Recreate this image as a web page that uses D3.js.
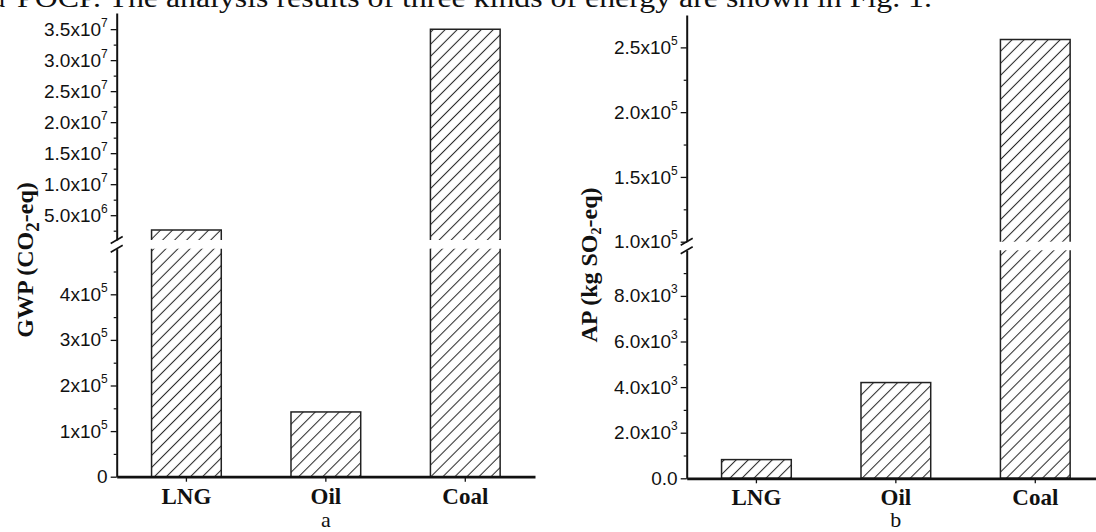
<!DOCTYPE html>
<html>
<head>
<meta charset="utf-8">
<script src="https://cdn.jsdelivr.net/npm/d3@7"></script>
<style>
  html, body { margin: 0; padding: 0; background: #fff; }
  svg { display: block; }
  .serif { font-family: "Liberation Serif", "Times New Roman", serif; }
  .sans { font-family: "Liberation Sans", Arial, sans-serif; }
</style>
</head>
<body>
<svg id="chart" width="1096" height="532"></svg>
<script>
// ---------------- data ----------------
const categories = ["LNG", "Oil", "Coal"];
const gwpValues = [2.6e6, 1.42e5, 3.5e7];      // CO2-eq
const apValues  = [820, 4200, 2.56e5];          // kg SO2-eq

// axis segments (broken axes): [min, max]
const gwpLowerDomain = [0, 5e5];
const gwpUpperDomain = [1e6, 3.76e7];
const apLowerDomain  = [0, 1e4];
const apUpperDomain  = [1e5, 2.75e5];

// tick values and labels ("^" marks the exponent)
const gwpLowerTicks  = [0, 1e5, 2e5, 3e5, 4e5];
const gwpLowerLabels = ["0", "1x10^5", "2x10^5", "3x10^5", "4x10^5"];
const gwpLowerMinor  = [5e4, 1.5e5, 2.5e5, 3.5e5, 4.5e5];
const gwpUpperTicks  = [5e6, 1e7, 1.5e7, 2e7, 2.5e7, 3e7, 3.5e7];
const gwpUpperLabels = ["5.0x10^6", "1.0x10^7", "1.5x10^7", "2.0x10^7", "2.5x10^7", "3.0x10^7", "3.5x10^7"];
const gwpUpperMinor  = [2.5e6, 7.5e6, 1.25e7, 1.75e7, 2.25e7, 2.75e7, 3.25e7];

const apLowerTicks  = [0, 2e3, 4e3, 6e3, 8e3];
const apLowerLabels = ["0.0", "2.0x10^3", "4.0x10^3", "6.0x10^3", "8.0x10^3"];
const apLowerMinor  = [1e3, 3e3, 5e3, 7e3, 9e3];
const apUpperTicks  = [1e5, 1.5e5, 2e5, 2.5e5];
const apUpperLabels = ["1.0x10^5", "1.5x10^5", "2.0x10^5", "2.5x10^5"];
const apUpperMinor  = [1.25e5, 1.75e5, 2.25e5];

const topTextLead = "and";
const topText = "POCP. The analysis results of three kinds of energy are shown in Fig. 1.";

// ---------------- drawing ----------------
const svg = d3.select("#chart");

const defs = svg.append("defs");
const pat = defs.append("pattern")
  .attr("id", "hatch")
  .attr("patternUnits", "userSpaceOnUse")
  .attr("width", 8.5).attr("height", 8.5)
  .attr("patternTransform", "rotate(45)");
pat.append("line")
  .attr("x1", 4.25).attr("y1", -1).attr("x2", 4.25).attr("y2", 9.5)
  .attr("stroke", "#2a2a2a").attr("stroke-width", 1.05);

// top body text (cut off at the top of the picture, as in the source)
svg.append("text").attr("class", "serif")
  .attr("x", 5).attr("y", 7).attr("text-anchor", "end")
  .attr("font-size", 27).attr("fill", "#111").text(topTextLead);
svg.append("text").attr("class", "serif")
  .attr("x", 17).attr("y", 7)
  .attr("font-size", 27).attr("fill", "#111")
  .attr("textLength", 915).attr("lengthAdjust", "spacingAndGlyphs")
  .text(topText);

function labelTicks(g, ticks, labels) {
  g.selectAll(".tick text").each(function(d) {
    const i = ticks.indexOf(d);
    const lab = i >= 0 ? labels[i] : "";
    const parts = lab.split("^");
    const t = d3.select(this);
    t.text(null);
    t.append("tspan").text(parts[0]);
    if (parts.length > 1) {
      t.append("tspan").attr("font-size", 12).attr("dy", -9).text(parts[1]);
    }
  });
}

function drawPanel(p) {
  const g = svg.append("g");
  const x = d3.scaleBand().domain(categories).range(p.xRange).paddingInner(0.5).paddingOuter(0.25);
  const yL = d3.scaleLinear().domain(p.lowerDomain).range(p.lowerRange);
  const yU = d3.scaleLinear().domain(p.upperDomain).range(p.upperRange);
  const y0 = yL(0);
  const lTop = p.lowerRange[1];
  const uBot = p.upperRange[0];

  // bars
  const bars = g.append("g");
  p.values.forEach((v, i) => {
    const bx = x(categories[i]);
    const bw = x.bandwidth();
    // lower piece
    if (v <= p.lowerDomain[1]) {
      const yt = yL(v);
      bars.append("rect").attr("x", bx).attr("y", yt).attr("width", bw).attr("height", y0 - yt)
        .attr("fill", "url(#hatch)").attr("stroke", "#222").attr("stroke-width", 1.5);
    } else {
      bars.append("rect").attr("x", bx).attr("y", lTop).attr("width", bw).attr("height", y0 - lTop)
        .attr("fill", "url(#hatch)");
      bars.append("path").attr("d", `M${bx},${lTop}V${y0}H${bx + bw}V${lTop}`)
        .attr("fill", "none").attr("stroke", "#222").attr("stroke-width", 1.5);
    }
    // upper piece
    if (v > p.upperDomain[0]) {
      const yt = yU(v);
      bars.append("rect").attr("x", bx).attr("y", yt).attr("width", bw).attr("height", uBot - yt)
        .attr("fill", "url(#hatch)");
      bars.append("path").attr("d", `M${bx},${uBot}V${yt}H${bx + bw}V${uBot}`)
        .attr("fill", "none").attr("stroke", "#222").attr("stroke-width", 1.5);
    }
  });

  const ax = p.xRange[0];
  // y axes
  const gl = g.append("g").attr("transform", `translate(${ax},0)`).attr("class", "sans")
    .call(d3.axisLeft(yL).tickValues(p.lowerTicks).tickSize(6).tickSizeOuter(0).tickPadding(3));
  labelTicks(gl, p.lowerTicks, p.lowerLabels);
  const gu = g.append("g").attr("transform", `translate(${ax},0)`).attr("class", "sans")
    .call(d3.axisLeft(yU).tickValues(p.upperTicks).tickSize(6).tickSizeOuter(0).tickPadding(3));
  labelTicks(gu, p.upperTicks, p.upperLabels);
  [gl, gu].forEach(a => {
    a.selectAll("text").attr("font-size", 19).attr("fill", "#111");
    a.select(".domain").attr("stroke", "#111").attr("stroke-width", 2);
    a.selectAll(".tick line").attr("stroke", "#111").attr("stroke-width", 1.3);
  });
  g.append("g").attr("transform", `translate(${ax},0)`)
    .call(d3.axisLeft(yL).tickValues(p.lowerMinor).tickSize(3).tickFormat(""))
    .call(a => { a.select(".domain").remove(); a.selectAll("line").attr("stroke", "#111").attr("stroke-width", 1.2); });
  g.append("g").attr("transform", `translate(${ax},0)`)
    .call(d3.axisLeft(yU).tickValues(p.upperMinor).tickSize(3).tickFormat(""))
    .call(a => { a.select(".domain").remove(); a.selectAll("line").attr("stroke", "#111").attr("stroke-width", 1.2); });

  // break marks
  [uBot, lTop].forEach(yy => {
    g.append("line").attr("x1", ax - 6).attr("y1", yy + 3.5).attr("x2", ax + 6).attr("y2", yy - 3.5)
      .attr("stroke", "#111").attr("stroke-width", 1.6);
  });

  // x axis
  const gx = g.append("g").attr("transform", `translate(0,${y0})`)
    .call(d3.axisBottom(x).tickSize(5).tickSizeOuter(0).tickPadding(6));
  gx.select(".domain").attr("stroke", "#111").attr("stroke-width", 2.8);
  gx.selectAll(".tick line").attr("stroke", "#111").attr("stroke-width", 1.3);
  gx.selectAll(".tick text").attr("class", "serif").attr("font-size", 23)
    .attr("font-weight", "bold").attr("fill", "#111").attr("dy", null).attr("y", 27);

  // y title
  const t = g.append("text").attr("class", "serif")
    .attr("transform", `translate(${p.titlePos[0]},${p.titlePos[1]}) rotate(-90)`)
    .attr("text-anchor", "middle").attr("font-size", 24).attr("font-weight", "bold").attr("fill", "#111");
  t.append("tspan").text(p.titleA);
  t.append("tspan").attr("font-size", p.subSize).attr("dy", p.subShift).text("2");
  t.append("tspan").attr("dy", -p.subShift).text(p.titleB);

  // panel letter
  g.append("text").attr("class", "serif")
    .attr("x", x("Oil") + x.bandwidth() / 2).attr("y", 527)
    .attr("text-anchor", "middle").attr("font-size", 22).attr("fill", "#111")
    .text(p.letter);
}

drawPanel({
  xRange: [116.7, 535],
  lowerDomain: gwpLowerDomain, lowerRange: [476.7, 248.7],
  upperDomain: gwpUpperDomain, upperRange: [240, 13],
  values: gwpValues,
  lowerTicks: gwpLowerTicks, lowerLabels: gwpLowerLabels, lowerMinor: gwpLowerMinor,
  upperTicks: gwpUpperTicks, upperLabels: gwpUpperLabels, upperMinor: gwpUpperMinor,
  titlePos: [33, 260], titleA: "GWP (CO", titleB: "-eq)", subSize: 19, subShift: 6,
  letter: "a"
});

drawPanel({
  xRange: [686.7, 1105],
  lowerDomain: apLowerDomain, lowerRange: [478.3, 250.3],
  upperDomain: apUpperDomain, upperRange: [241.7, 15],
  values: apValues,
  lowerTicks: apLowerTicks, lowerLabels: apLowerLabels, lowerMinor: apLowerMinor,
  upperTicks: apUpperTicks, upperLabels: apUpperLabels, upperMinor: apUpperMinor,
  titlePos: [597, 265], titleA: "AP (kg SO", titleB: "-eq)", subSize: 14, subShift: 4,
  letter: "b"
});
</script>
</body>
</html>
